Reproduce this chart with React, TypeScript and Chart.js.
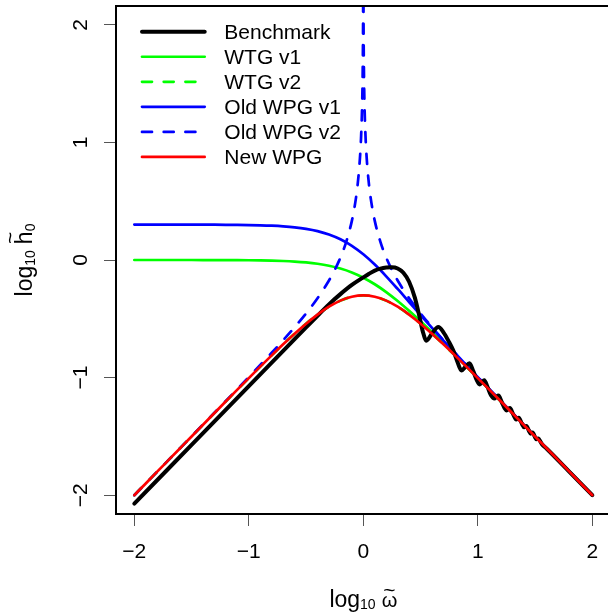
import React, { useEffect, useRef } from "react";
import { Chart, registerables } from "chart.js";

Chart.register(...registerables);

const FONT = '"Liberation Sans", Arial, Helvetica, sans-serif';

// ---- axes / ticks ----
const X_TICKS = [-2, -1, 0, 1, 2];
const Y_TICKS = [-2, -1, 0, 1, 2];
const X_RANGE = [-2.16, 2.137];
const Y_RANGE = [-2.16, 2.16];

const SERIES_NAMES = ["Benchmark", "WTG v1", "WTG v2", "Old WPG v1", "Old WPG v2", "New WPG"];

// ---- smooth curves ----
const CURVE_X = [
  -2.0, -1.9, -1.8, -1.7, -1.6, -1.5, -1.4, -1.3, -1.2, -1.1, -1.0, -0.9, -0.8, -0.7, -0.6, -0.5, -0.4, -0.3, -0.2, -0.1,
  0.0, 0.1, 0.2, 0.3, 0.4, 0.5, 0.6, 0.7, 0.8, 0.9, 1.0, 1.1, 1.2, 1.3, 1.4, 1.5, 1.6, 1.7, 1.8, 1.9, 2.0,
];

const WTG_V1 = [
  0.0, -0.0, -0.0001, -0.0001, -0.0001, -0.0002, -0.0003, -0.0005, -0.0009, -0.0014, -0.0022, -0.0034, -0.0054, -0.0085,
  -0.0133, -0.0207, -0.0319, -0.0487, -0.0728, -0.1062, -0.1505, -0.2062, -0.2728, -0.3487, -0.432, -0.5207, -0.6133,
  -0.7085, -0.8054, -0.9034, -1.0022, -1.1014, -1.2009, -1.3005, -1.4003, -1.5002, -1.6001, -1.7001, -1.8001, -1.9, -2.0,
];

const WTG_V2 = [
  -2.0, -1.9001, -1.8001, -1.7002, -1.6003, -1.5004, -1.4007, -1.3011, -1.2017, -1.1027, -1.0043, -0.9068, -0.8108, -0.717,
  -0.6266, -0.5414, -0.4639, -0.3973, -0.3455, -0.3125, -0.301, -0.3125, -0.3455, -0.3973, -0.4639, -0.5414, -0.6266,
  -0.717, -0.8108, -0.9068, -1.0043, -1.1027, -1.2017, -1.3011, -1.4007, -1.5004, -1.6003, -1.7002, -1.8001, -1.9001, -2.0,
];

const OLD_WPG_V1 = [
  0.301, 0.301, 0.3009, 0.3009, 0.3008, 0.3007, 0.3004, 0.3001, 0.2995, 0.2986, 0.2972, 0.2951, 0.2916, 0.2862, 0.2779,
  0.265, 0.2456, 0.2169, 0.1761, 0.1204, 0.0485, -0.0389, -0.1387, -0.2463, -0.3573, -0.4683, -0.5777, -0.6849, -0.79,
  -0.8935, -0.9958, -1.0973, -1.1983, -1.2989, -1.3993, -1.4996, -1.5997, -1.6998, -1.7999, -1.8999, -2.0,
];

const NEW_WPG = [
  -2.0, -1.9001, -1.8001, -1.7002, -1.6003, -1.5004, -1.4007, -1.3011, -1.2017, -1.1027, -1.0043, -0.9068, -0.8108, -0.717,
  -0.6266, -0.5414, -0.4639, -0.3973, -0.3455, -0.3125, -0.301, -0.3125, -0.3455, -0.3973, -0.4639, -0.5414, -0.6266,
  -0.717, -0.8108, -0.9068, -1.0043, -1.1027, -1.2017, -1.3011, -1.4007, -1.5004, -1.6003, -1.7002, -1.8001, -1.9001, -2.0,
];

const OLD_WPG_V2_X = [
  -2.0, -1.9, -1.8, -1.7, -1.6, -1.5, -1.4, -1.3, -1.2, -1.1, -1.0, -0.9, -0.8, -0.7, -0.6, -0.5, -0.4, -0.3, -0.25, -0.2,
  -0.15, -0.1, -0.07, -0.05, -0.03, -0.02, -0.01, -0.005, -0.002, -0.001,
  0.001, 0.002, 0.005, 0.01, 0.02, 0.03, 0.05, 0.07, 0.1, 0.15, 0.2, 0.25, 0.3, 0.4, 0.5, 0.6, 0.7, 0.8, 0.9, 1.0, 1.1,
  1.2, 1.3, 1.4, 1.5, 1.6, 1.7, 1.8, 1.9, 2.0,
];
const OLD_WPG_V2_Y = [
  -2.0, -1.8999, -1.7999, -1.6998, -1.5997, -1.4996, -1.3993, -1.2989, -1.1983, -1.0973, -0.9956, -0.8931, -0.789, -0.6824,
  -0.5717, -0.4542, -0.3251, -0.1744, -0.0849, 0.0205, 0.1521, 0.333, 0.4898, 0.6368, 0.8593, 1.0356, 1.3367, 1.6378,
  2.0356, 2.3367,
  2.3367, 2.0357, 1.6378, 1.3367, 1.0356, 0.8593, 0.6368, 0.4898, 0.3329, 0.1521, 0.0205, -0.0849, -0.1744, -0.3251,
  -0.4542, -0.5717, -0.6824, -0.789, -0.8931, -0.9956, -1.0973, -1.1983, -1.2989, -1.3993, -1.4996, -1.5997, -1.6998,
  -1.7999, -1.8999, -2.0,
];

// ---- benchmark (oscillating) ----
const BENCH_X = [
  -2.0, -1.5, -1.0, -0.7, -0.5, -0.4, -0.3, -0.2, -0.1, 0.0, 0.05, 0.1, 0.15, 0.2, 0.248, 0.3, 0.35, 0.4, 0.45, 0.49,
  0.52, 0.551, 0.6, 0.655, 0.7, 0.75, 0.786, 0.82, 0.857, 0.89, 0.927, 0.96, 0.99, 1.015, 1.035, 1.056, 1.085, 1.115,
  1.145, 1.162, 1.18, 1.21, 1.235, 1.252, 1.266, 1.28, 1.31, 1.335, 1.347, 1.358, 1.385, 1.405, 1.415, 1.425, 1.445,
  1.462, 1.47, 1.479, 1.497, 1.512, 1.52, 1.527, 1.56, 1.6, 1.8, 2.0,
];
const BENCH_Y = [
  -2.072, -1.572, -1.072, -0.772, -0.573, -0.474, -0.377, -0.29, -0.212, -0.148, -0.117, -0.09, -0.073, -0.064, -0.062,
  -0.072, -0.108, -0.185, -0.32, -0.48, -0.61, -0.686, -0.625, -0.57, -0.615, -0.7, -0.77, -0.86, -0.94, -0.91, -0.877,
  -0.945, -1.02, -1.058, -1.04, -1.022, -1.08, -1.15, -1.178, -1.165, -1.153, -1.21, -1.262, -1.28, -1.268, -1.259,
  -1.315, -1.357, -1.348, -1.341, -1.393, -1.423, -1.416, -1.411, -1.45, -1.477, -1.472, -1.467, -1.502, -1.524, -1.52,
  -1.517, -1.566, -1.603, -1.801, -2.0,
];

const fmtTick = (v: number) => (v < 0 ? "\u2212" + Math.abs(v) : String(v));
const pts = (xs: number[], ys: number[]) => xs.map((x, i) => ({ x, y: ys[i] }));

type Run = { t: string; size: number; dy: number; tilde?: { size: number; dy: number }; gapAfter?: number };

function drawRuns(ctx: CanvasRenderingContext2D, runs: Run[]) {
  let total = 0;
  const widths: number[] = [];
  for (const r of runs) {
    ctx.font = `${r.size}px ${FONT}`;
    const w = ctx.measureText(r.t).width;
    widths.push(w);
    total += w + (r.gapAfter || 0);
  }
  let x = -total / 2;
  ctx.textAlign = "left";
  ctx.textBaseline = "alphabetic";
  runs.forEach((r, i) => {
    ctx.font = `${r.size}px ${FONT}`;
    ctx.fillText(r.t, x, r.dy);
    if (r.tilde) {
      ctx.font = `${r.tilde.size}px ${FONT}`;
      ctx.textAlign = "center";
      ctx.fillText("~", x + widths[i] / 2, r.tilde.dy);
      ctx.textAlign = "left";
    }
    x += widths[i] + (r.gapAfter || 0);
  });
}

const decorPlugin = {
  id: "decor",
  afterDraw(chart: any) {
    const ctx: CanvasRenderingContext2D = chart.ctx;
    const { left, top, right, bottom } = chart.chartArea;
    const ys = chart.scales.y;
    ctx.save();

    // box
    ctx.strokeStyle = "#000";
    ctx.lineWidth = 2;
    ctx.setLineDash([]);
    ctx.beginPath();
    ctx.moveTo(right + 10, top);
    ctx.lineTo(left, top);
    ctx.lineTo(left, bottom);
    ctx.lineTo(right + 10, bottom);
    ctx.stroke();

    // y tick labels (rotated, parallel to axis)
    ctx.fillStyle = "#000";
    ctx.font = `21px ${FONT}`;
    ctx.textAlign = "center";
    ctx.textBaseline = "alphabetic";
    for (const v of Y_TICKS) {
      const py = ys.getPixelForValue(v);
      ctx.save();
      ctx.translate(87, py);
      ctx.rotate(-Math.PI / 2);
      ctx.fillText(fmtTick(v), 0, 0);
      ctx.restore();
    }

    // x title: log10 omega-tilde
    ctx.save();
    ctx.translate((left + chart.scales.x.getPixelForValue(2.16)) / 2, 606.5);
    drawRuns(ctx, [
      { t: "log", size: 23, dy: 0 },
      { t: "10", size: 14, dy: 2.5, gapAfter: 6 },
      { t: "\u03C9", size: 20, dy: 0, tilde: { size: 21, dy: -9.5 } },
    ]);
    ctx.restore();

    // y title: log10 h-tilde 0
    ctx.save();
    ctx.translate(32, (top + bottom) / 2);
    ctx.rotate(-Math.PI / 2);
    drawRuns(ctx, [
      { t: "log", size: 23, dy: 0 },
      { t: "10", size: 14, dy: 2.5, gapAfter: 6 },
      { t: "h", size: 23, dy: 0, tilde: { size: 21, dy: -15 } },
      { t: "0", size: 14, dy: 2.5 },
    ]);
    ctx.restore();

    // legend
    const rowY0 = 31.7;
    const rowStep = 25.05;
    chart.data.datasets.forEach((ds: any, i: number) => {
      const y = rowY0 + i * rowStep;
      ctx.strokeStyle = ds.borderColor;
      ctx.lineWidth = ds.borderWidth;
      ctx.lineCap = "round";
      ctx.setLineDash(ds.borderDash || []);
      ctx.beginPath();
      ctx.moveTo(142, y);
      ctx.lineTo(204.7, y);
      ctx.stroke();
      ctx.setLineDash([]);
      ctx.fillStyle = "#000";
      ctx.font = `21px ${FONT}`;
      ctx.textAlign = "left";
      ctx.textBaseline = "alphabetic";
      ctx.fillText(ds.label, 224.3, y + 7.5);
    });

    ctx.restore();
  },
};

export default function App() {
  const ref = useRef<HTMLCanvasElement>(null);

  useEffect(() => {
    document.body.style.margin = "0";
    const canvas = ref.current;
    if (!canvas) return;

    const common = {
      showLine: true,
      pointRadius: 0,
      pointHoverRadius: 0,
      fill: false,
      cubicInterpolationMode: "monotone" as const,
      borderCapStyle: "round" as const,
      borderJoinStyle: "round" as const,
    };
    const DASH = [10, 11.7];

    const chart = new Chart(canvas, {
      type: "scatter",
      data: {
        datasets: [
          { ...common, label: SERIES_NAMES[0], data: pts(BENCH_X, BENCH_Y), borderColor: "#000000", borderWidth: 4, order: 1 },
          { ...common, label: SERIES_NAMES[1], data: pts(CURVE_X, WTG_V1), borderColor: "#00FF00", borderWidth: 2.7, order: 5 },
          { ...common, label: SERIES_NAMES[2], data: pts(CURVE_X, WTG_V2), borderColor: "#00FF00", borderWidth: 2.7, borderDash: DASH, order: 4 },
          { ...common, label: SERIES_NAMES[3], data: pts(CURVE_X, OLD_WPG_V1), borderColor: "#0000FF", borderWidth: 2.7, order: 3 },
          { ...common, label: SERIES_NAMES[4], data: pts(OLD_WPG_V2_X, OLD_WPG_V2_Y), borderColor: "#0000FF", borderWidth: 2.7, borderDash: DASH, order: 2 },
          { ...common, label: SERIES_NAMES[5], data: pts(CURVE_X, NEW_WPG), borderColor: "#FF0000", borderWidth: 2.7, order: 0 },
        ],
      },
      options: {
        animation: false,
        responsive: false,
        maintainAspectRatio: false,
        devicePixelRatio: 1,
        events: [],
        layout: { padding: { top: 6, left: 0, right: 0, bottom: 0 } },
        plugins: { legend: { display: false }, tooltip: { enabled: false }, title: { display: false } },
        scales: {
          x: {
            type: "linear",
            position: "bottom",
            min: X_RANGE[0],
            max: X_RANGE[1],
            afterBuildTicks: (s: any) => {
              s.ticks = X_TICKS.map((v) => ({ value: v }));
            },
            afterFit: (s: any) => {
              s.height = 99;
              s.paddingLeft = 0;
              s.paddingRight = 0;
              s.paddingTop = 0;
              s.paddingBottom = 0;
            },
            ticks: {
              autoSkip: false,
              maxRotation: 0,
              minRotation: 0,
              padding: 14,
              color: "#000",
              font: { family: FONT, size: 21 },
              callback: (v: any) => fmtTick(Number(v)),
            },
            grid: { drawOnChartArea: false, drawTicks: true, tickLength: 12, tickColor: "#555", tickWidth: 1 },
            border: { display: false },
          },
          y: {
            type: "linear",
            position: "left",
            min: Y_RANGE[0],
            max: Y_RANGE[1],
            afterBuildTicks: (s: any) => {
              s.ticks = Y_TICKS.map((v) => ({ value: v }));
            },
            afterFit: (s: any) => {
              s.width = 116;
              s.paddingLeft = 0;
              s.paddingRight = 0;
              s.paddingTop = 0;
              s.paddingBottom = 0;
            },
            ticks: { display: false },
            grid: { drawOnChartArea: false, drawTicks: true, tickLength: 12, tickColor: "#555", tickWidth: 1 },
            border: { display: false },
          },
        },
      },
      plugins: [decorPlugin],
    });

    return () => chart.destroy();
  }, []);

  return (
    <div style={{ width: 608, height: 613, overflow: "hidden", background: "#fff", position: "relative" }}>
      <canvas ref={ref} width={608} height={613} style={{ display: "block", width: 608, height: 613 }} />
    </div>
  );
}
